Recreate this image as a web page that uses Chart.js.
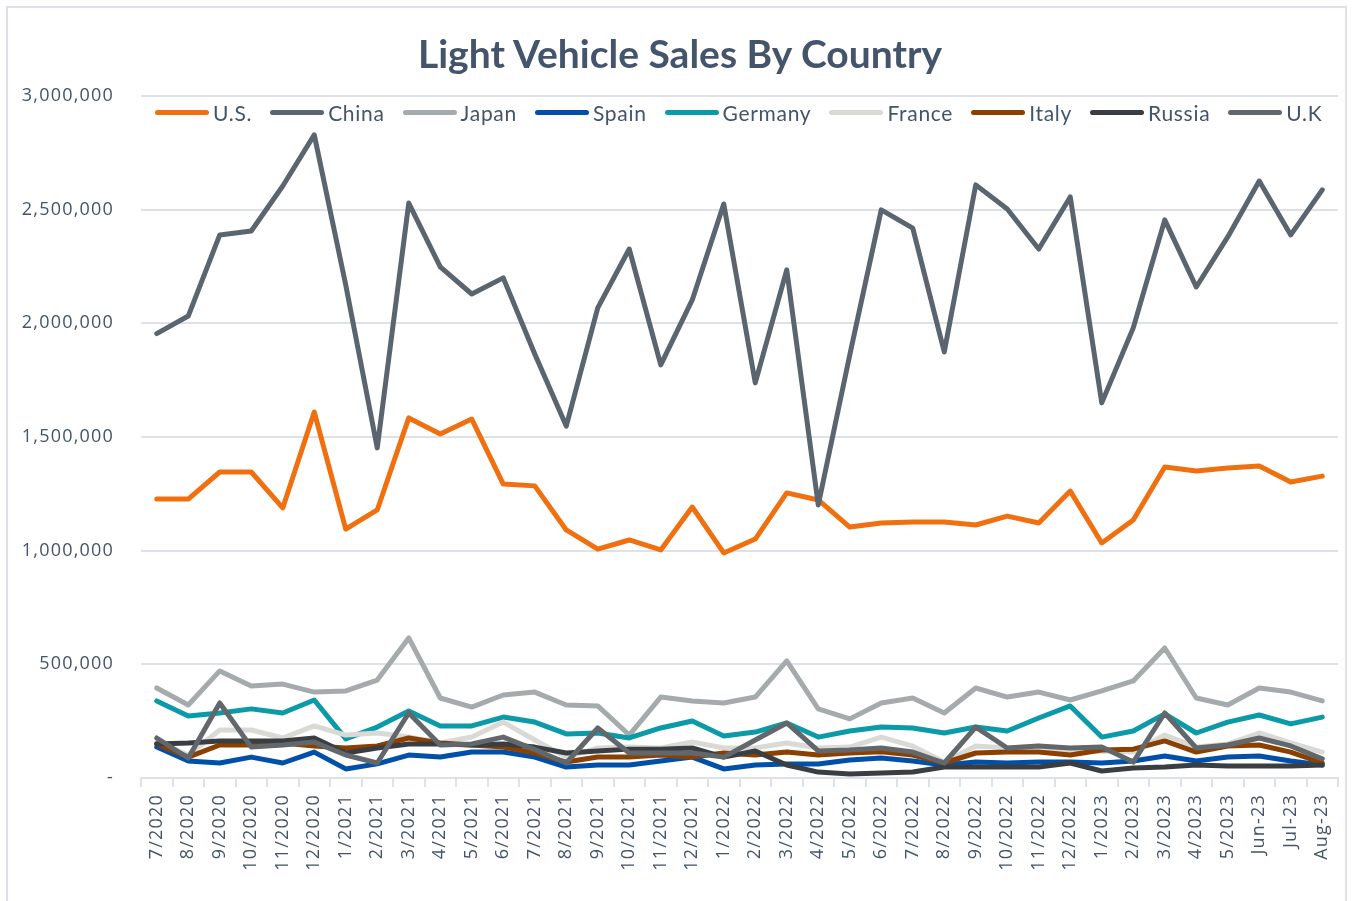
<!DOCTYPE html>
<html>
<head>
<meta charset="utf-8">
<script src="https://cdn.jsdelivr.net/npm/chart.js@4.4.0/dist/chart.umd.min.js"></script>
<style>
  html, body { margin: 0; padding: 0; background: #ffffff; }
  body { width: 1353px; height: 901px; position: relative; overflow: hidden; }
  #frame { position: absolute; left: 6px; top: 6px; width: 1341px; height: 910px; border: 2px solid #DEE2E8; box-sizing: border-box; }
  #title { position: absolute; left: 0; top: 29px; width: 1360px; text-align: center;
           font-family: Lato, "Open Sans", sans-serif; font-weight: 700; font-size: 39px; line-height: 48px; color: #44546A; }
  #legend { position: absolute; left: 155px; top: 100px; display: flex; align-items: center;
            font-family: Lato, sans-serif; font-size: 21px; color: #44546A; letter-spacing: 0.7px; }
  .item { display: flex; align-items: center; margin-right: 18px; }
  .swatch { width: 54px; height: 5px; border-radius: 3px; margin-right: 4px; }
  #wrap { position: absolute; left: 0; top: 0; width: 1353px; height: 901px; }
</style>
</head>
<body>
<div id="frame"></div>
<div id="wrap"><canvas id="c" width="1353" height="901"></canvas></div>
<div id="title">Light Vehicle Sales By Country</div>
<div id="legend"></div>
<script>
const months = ['7/2020','8/2020','9/2020','10/2020','11/2020','12/2020',
  '1/2021','2/2021','3/2021','4/2021','5/2021','6/2021','7/2021','8/2021','9/2021','10/2021','11/2021','12/2021',
  '1/2022','2/2022','3/2022','4/2022','5/2022','6/2022','7/2022','8/2022','9/2022','10/2022','11/2022','12/2022',
  '1/2023','2/2023','3/2023','4/2023','5/2023','Jun-23','Jul-23','Aug-23'];

const us = [1227000,1227000,1346000,1346000,1188000,1610000,1095000,1179000,1584000,1513000,1579000,1293000,
  1285000,1091000,1007000,1047000,1003000,1192000,990000,1051000,1254000,1223000,1104000,1122000,
  1126000,1126000,1113000,1152000,1122000,1262000,1034000,1135000,1368000,1350000,1364000,1372000,1302000,1328000];
const china = [1955000,2032000,2389000,2406000,2604000,2829000,2169000,1452000,2529000,2248000,2129000,2200000,
  1865000,1548000,2068000,2327000,1817000,2103000,2525000,1738000,2235000,1201000,1861000,2499000,
  2419000,1874000,2609000,2503000,2327000,2556000,1650000,1980000,2455000,2160000,2380000,2626000,2389000,2587000];
const japan = [396000,321000,471000,405000,413000,378000,383000,431000,616000,352000,312000,365000,
  378000,321000,317000,189000,356000,339000,330000,356000,515000,304000,260000,330000,
  352000,286000,396000,356000,378000,343000,383000,427000,572000,352000,321000,396000,378000,339000];
const spain = [136000,75000,66000,92000,66000,114000,40000,62000,101000,92000,114000,114000,
  92000,48000,57000,57000,75000,92000,40000,57000,62000,62000,79000,88000,
  75000,57000,70000,66000,70000,70000,66000,75000,97000,75000,92000,97000,75000,57000];
const germany = [339000,273000,286000,304000,286000,343000,172000,224000,295000,229000,229000,268000,
  246000,194000,198000,176000,220000,251000,185000,202000,242000,180000,207000,224000,
  220000,198000,224000,207000,264000,317000,180000,207000,282000,198000,246000,277000,238000,268000];
const france = [158000,101000,211000,211000,176000,229000,189000,198000,180000,154000,180000,246000,
  167000,92000,132000,136000,132000,158000,132000,132000,154000,132000,136000,180000,
  140000,70000,141000,132000,141000,114000,119000,114000,189000,136000,150000,198000,154000,114000];
const italy = [150000,92000,145000,145000,154000,141000,132000,141000,176000,154000,145000,136000,
  110000,70000,92000,92000,101000,92000,110000,101000,114000,101000,110000,115000,
  101000,66000,110000,114000,114000,101000,123000,127000,163000,114000,141000,145000,114000,66000];
const russia = [150000,154000,163000,163000,163000,176000,110000,132000,150000,150000,145000,150000,
  136000,110000,119000,127000,127000,132000,92000,119000,57000,26000,18000,22000,
  26000,48000,48000,48000,48000,66000,31000,44000,48000,57000,53000,53000,53000,57000];
const uk = [176000,88000,330000,136000,145000,158000,101000,66000,286000,145000,150000,180000,
  125000,66000,220000,110000,110000,110000,92000,167000,242000,119000,123000,132000,
  114000,66000,224000,132000,141000,132000,136000,70000,286000,132000,145000,176000,141000,84000];

const seriesNames = ['U.S.','China','Japan','Spain','Germany','France','Italy','Russia','U.K'];
const seriesData = [us, china, japan, spain, germany, france, italy, russia, uk];
const seriesColors = ['#F07010','#5A6570','#A5AAAD','#0050AA','#0A9AA8','#D9DAD6','#8B4000','#3A3E43','#62676B'];
const yTicks = [0, 500000, 1000000, 1500000, 2000000, 2500000, 3000000];

const datasets = seriesNames.map((name, i) => ({
  label: name,
  data: seriesData[i],
  borderColor: seriesColors[i],
  backgroundColor: seriesColors[i],
  borderWidth: 5,
  pointRadius: 0,
  tension: 0,
  fill: false,
  borderCapStyle: 'round',
  borderJoinStyle: 'round',
  order: seriesNames.length - i
}));

// HTML legend
const legend = document.getElementById('legend');
seriesNames.forEach((name, i) => {
  const it = document.createElement('div'); it.className = 'item';
  const sw = document.createElement('div'); sw.className = 'swatch'; sw.style.background = seriesColors[i];
  const tx = document.createElement('span'); tx.textContent = name;
  it.appendChild(sw); it.appendChild(tx); legend.appendChild(it);
});

const LS = '1.2px';
const spacing = {
  id: 'spacing',
  beforeUpdate(c) { c.ctx.letterSpacing = LS; },
  beforeDraw(c) { c.ctx.letterSpacing = LS; }
};

new Chart(document.getElementById('c'), {
  type: 'line',
  data: { labels: months, datasets },
  plugins: [spacing],
  options: {
    responsive: false,
    animation: false,
    devicePixelRatio: 1,
    layout: { padding: { top: 96, right: 15, bottom: 13, left: 0 } },
    plugins: { legend: { display: false }, title: { display: false }, tooltip: { enabled: false } },
    scales: {
      x: {
        type: 'category',
        offset: true,
        grid: { display: true, drawOnChartArea: false, drawTicks: true, tickLength: 9, offset: true, color: '#DEE2E8', lineWidth: 2 },
        border: { display: true, color: '#DEE2E8', width: 2 },
        ticks: { autoSkip: false, minRotation: 90, maxRotation: 90, padding: 7, color: '#44546A',
                 font: { family: '"Open Sans"', size: 18 } },
        afterFit(s) { s.height = 110; }
      },
      y: {
        min: 0, max: 3000000,
        afterBuildTicks(s) { s.ticks = yTicks.map(v => ({ value: v })); },
        grid: { color: '#DEE2E8', lineWidth: 2, drawTicks: false },
        border: { display: false },
        ticks: { padding: 27, color: '#44546A', font: { family: '"Open Sans"', size: 18 },
                 callback: v => v === 0 ? '-' : Number(v).toLocaleString('en-US') },
        afterFit(s) { s.width = 141; }
      }
    }
  }
});
</script>
</body>
</html>
